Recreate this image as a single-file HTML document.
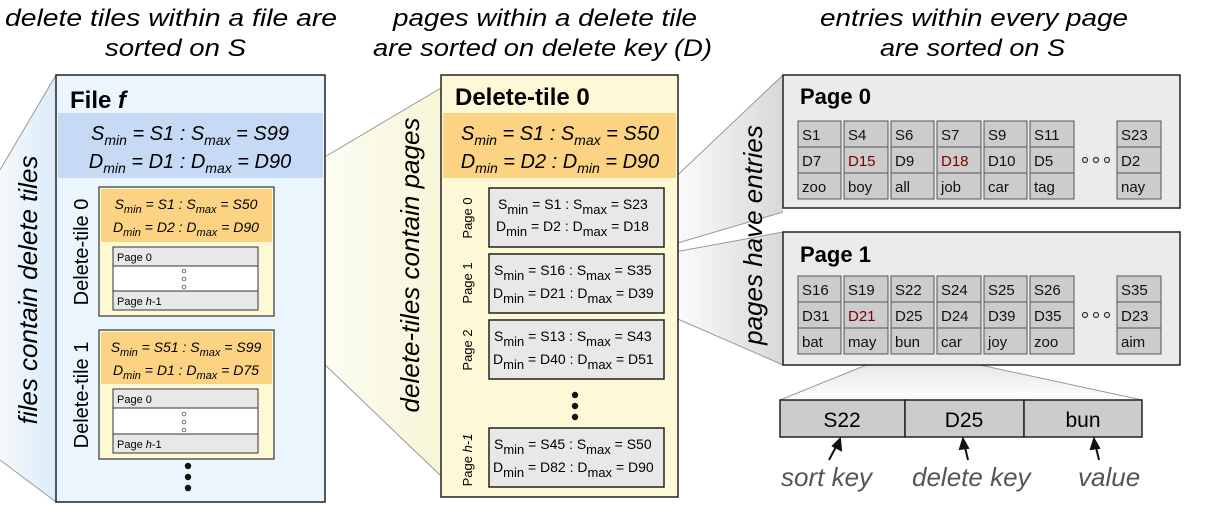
<!DOCTYPE html>
<html><head><meta charset="utf-8"><style>
html,body{margin:0;padding:0;background:#fff;}
svg{display:block;font-family:"Liberation Sans",sans-serif;}
</style></head><body>
<svg width="1215" height="513" viewBox="0 0 1215 513" xmlns="http://www.w3.org/2000/svg">
<defs>
<linearGradient id="gb" x1="0" x2="1" y1="0" y2="0"><stop offset="0" stop-color="#f4f9fd"/><stop offset="1" stop-color="#dcecf8"/></linearGradient>
<linearGradient id="gy" x1="0" x2="1" y1="0" y2="0"><stop offset="0" stop-color="#ffffff"/><stop offset="1" stop-color="#f6f6d8"/></linearGradient>
<linearGradient id="gg" x1="0" x2="1" y1="0" y2="0"><stop offset="0" stop-color="#ffffff"/><stop offset="1" stop-color="#d8d8d8"/></linearGradient>
<linearGradient id="gg2" x1="0" x2="0" y1="0" y2="1"><stop offset="0" stop-color="#e0e0e0"/><stop offset="1" stop-color="#ffffff"/></linearGradient>
</defs>

<g font-style="italic" font-size="24" fill="#000">
<text x="5" y="26" textLength="332" lengthAdjust="spacingAndGlyphs">delete tiles within a file are</text>
<text x="105" y="56" textLength="141" lengthAdjust="spacingAndGlyphs">sorted on S</text>
<text x="393" y="26" textLength="304" lengthAdjust="spacingAndGlyphs">pages within a delete tile</text>
<text x="373" y="56" textLength="339" lengthAdjust="spacingAndGlyphs">are sorted on delete key (D)</text>
<text x="820" y="26" textLength="308" lengthAdjust="spacingAndGlyphs">entries within every page</text>
<text x="880" y="56" textLength="185" lengthAdjust="spacingAndGlyphs">are sorted on S</text>
</g>

<polygon points="0,170 56,75 56,502 0,460" fill="url(#gb)"/>
<line x1="0" y1="170" x2="56" y2="75" stroke="#999"/><line x1="0" y1="460" x2="56" y2="502" stroke="#999"/>
<polygon points="274,187 441,88 441,476 274,316" fill="url(#gy)"/>
<line x1="274" y1="187" x2="441" y2="88" stroke="#999"/><line x1="274" y1="316" x2="441" y2="476" stroke="#999"/>
<polygon points="664,188 783,75 783,212 664,247" fill="url(#gg)"/>
<line x1="664" y1="188" x2="783" y2="75" stroke="#999"/><line x1="664" y1="247" x2="783" y2="212" stroke="#999"/>
<polygon points="664,254 783,232 783,365 664,313" fill="url(#gg)"/>
<line x1="664" y1="254" x2="783" y2="232" stroke="#999"/><line x1="664" y1="313" x2="783" y2="365" stroke="#999"/>
<polygon points="891,355 934,355 1142,400 780,400" fill="url(#gg2)"/>
<line x1="891" y1="355" x2="780" y2="400" stroke="#999"/><line x1="934" y1="355" x2="1142" y2="400" stroke="#999"/>

<g font-style="italic" font-size="26" fill="#000">
<text transform="translate(37,290) rotate(-90)" text-anchor="middle">files contain delete tiles</text>
<text transform="translate(419,265) rotate(-90)" text-anchor="middle">delete-tiles contain pages</text>
<text transform="translate(762,235) rotate(-90)" text-anchor="middle">pages have entries</text>
</g>

<rect x="56" y="75" width="269" height="427" fill="#eaf5fd" stroke="#222" stroke-width="1.5"/>
<text x="70" y="108" font-size="24" font-weight="bold">File <tspan font-style="italic">f</tspan></text>
<rect x="58" y="113" width="265" height="65" fill="#c6daf5"/>
<g font-size="20" font-style="italic" text-anchor="middle">
<text x="190" y="140">S<tspan font-size="14" dy="5">min</tspan><tspan dy="-5"> = S1 : S</tspan><tspan font-size="14" dy="5">max</tspan><tspan dy="-5"> = S99</tspan></text>
<text x="190" y="168">D<tspan font-size="14" dy="5">min</tspan><tspan dy="-5"> = D1 : D</tspan><tspan font-size="14" dy="5">max</tspan><tspan dy="-5"> = D90</tspan></text>
</g>
<g font-size="20">
<text transform="translate(88,252) rotate(-90)" text-anchor="middle">Delete-tile 0</text>
<text transform="translate(88,395) rotate(-90)" text-anchor="middle">Delete-tile 1</text>
</g>
<rect x="99" y="187" width="175" height="129" fill="#fdf9d4" stroke="#333" stroke-width="1.2"/>
<rect x="101" y="189" width="171" height="53" fill="#fcd283"/>
<g font-size="14" font-style="italic" text-anchor="middle">
<text x="186" y="209">S<tspan font-size="11" dy="4">min</tspan><tspan dy="-4"> = S1 : S</tspan><tspan font-size="11" dy="4">max</tspan><tspan dy="-4"> = S50</tspan></text>
<text x="186" y="232">D<tspan font-size="11" dy="4">min</tspan><tspan dy="-4"> = D2 : D</tspan><tspan font-size="11" dy="4">max</tspan><tspan dy="-4"> = D90</tspan></text>
</g>
<rect x="113" y="247" width="145" height="63" fill="#fff" stroke="#333"/>
<rect x="113" y="247" width="145" height="19" fill="#e8e8e8" stroke="#333"/>
<rect x="113" y="291" width="145" height="19" fill="#e8e8e8" stroke="#333"/>
<text x="117" y="261" font-size="11">Page 0</text>
<text x="117" y="305" font-size="11">Page <tspan font-style="italic">h</tspan>-1</text>
<g fill="none" stroke="#777"><circle cx="184" cy="271" r="1.8"/><circle cx="184" cy="279" r="1.8"/><circle cx="184" cy="287" r="1.8"/></g>
<rect x="99" y="330" width="175" height="129" fill="#fdf9d4" stroke="#333" stroke-width="1.2"/>
<rect x="101" y="332" width="171" height="52" fill="#fcd283"/>
<g font-size="14" font-style="italic" text-anchor="middle">
<text x="186" y="352">S<tspan font-size="11" dy="4">min</tspan><tspan dy="-4"> = S51 : S</tspan><tspan font-size="11" dy="4">max</tspan><tspan dy="-4"> = S99</tspan></text>
<text x="186" y="375">D<tspan font-size="11" dy="4">min</tspan><tspan dy="-4"> = D1 : D</tspan><tspan font-size="11" dy="4">max</tspan><tspan dy="-4"> = D75</tspan></text>
</g>
<rect x="113" y="389" width="145" height="64" fill="#fff" stroke="#333"/>
<rect x="113" y="389" width="145" height="19" fill="#e8e8e8" stroke="#333"/>
<rect x="113" y="434" width="145" height="19" fill="#e8e8e8" stroke="#333"/>
<text x="117" y="403" font-size="11">Page 0</text>
<text x="117" y="448" font-size="11">Page <tspan font-style="italic">h</tspan>-1</text>
<g fill="none" stroke="#777"><circle cx="184" cy="414" r="1.8"/><circle cx="184" cy="422" r="1.8"/><circle cx="184" cy="430" r="1.8"/></g>
<g fill="#111"><circle cx="188" cy="466" r="3.2"/><circle cx="188" cy="477" r="3.2"/><circle cx="188" cy="488" r="3.2"/></g>

<rect x="441" y="75" width="237" height="422" fill="#fdf9d6" stroke="#222" stroke-width="1.5"/>
<text x="455" y="105" font-size="24" font-weight="bold">Delete-tile 0</text>
<rect x="443" y="113" width="233" height="65" fill="#fcd283"/>
<g font-size="20" font-style="italic" text-anchor="middle">
<text x="560" y="140">S<tspan font-size="14" dy="5">min</tspan><tspan dy="-5"> = S1 : S</tspan><tspan font-size="14" dy="5">max</tspan><tspan dy="-5"> = S50</tspan></text>
<text x="560" y="168">D<tspan font-size="14" dy="5">min</tspan><tspan dy="-5"> = D2 : D</tspan><tspan font-size="14" dy="5">min</tspan><tspan dy="-5"> = D90</tspan></text>
</g>
<g font-size="13">
<text transform="translate(472,218) rotate(-90)" text-anchor="middle">Page 0</text>
<text transform="translate(472,283) rotate(-90)" text-anchor="middle">Page 1</text>
<text transform="translate(472,350) rotate(-90)" text-anchor="middle">Page 2</text>
<text transform="translate(472,460) rotate(-90)" text-anchor="middle">Page <tspan font-style="italic">h-1</tspan></text>
</g>
<g stroke="#222" stroke-width="1.5" fill="#e8e8e8">
<rect x="489" y="188" width="175" height="59"/>
<rect x="489" y="254" width="175" height="59"/>
<rect x="489" y="320" width="175" height="59"/>
<rect x="489" y="428" width="175" height="59"/>
</g>
<g font-size="14">
<text x="498" y="209">S<tspan font-size="13" dy="5">min</tspan><tspan dy="-5"> = S1 : S</tspan><tspan font-size="13" dy="5">max</tspan><tspan dy="-5"> = S23</tspan></text>
<text x="496" y="231">D<tspan font-size="13" dy="5">min</tspan><tspan dy="-5"> = D2 : D</tspan><tspan font-size="13" dy="5">max</tspan><tspan dy="-5"> = D18</tspan></text>
<text x="494" y="275">S<tspan font-size="13" dy="5">min</tspan><tspan dy="-5"> = S16 : S</tspan><tspan font-size="13" dy="5">max</tspan><tspan dy="-5"> = S35</tspan></text>
<text x="493" y="298">D<tspan font-size="13" dy="5">min</tspan><tspan dy="-5"> = D21 : D</tspan><tspan font-size="13" dy="5">max</tspan><tspan dy="-5"> = D39</tspan></text>
<text x="494" y="341">S<tspan font-size="13" dy="5">min</tspan><tspan dy="-5"> = S13 : S</tspan><tspan font-size="13" dy="5">max</tspan><tspan dy="-5"> = S43</tspan></text>
<text x="493" y="364">D<tspan font-size="13" dy="5">min</tspan><tspan dy="-5"> = D40 : D</tspan><tspan font-size="13" dy="5">max</tspan><tspan dy="-5"> = D51</tspan></text>
<text x="494" y="449">S<tspan font-size="13" dy="5">min</tspan><tspan dy="-5"> = S45 : S</tspan><tspan font-size="13" dy="5">max</tspan><tspan dy="-5"> = S50</tspan></text>
<text x="493" y="472">D<tspan font-size="13" dy="5">min</tspan><tspan dy="-5"> = D82 : D</tspan><tspan font-size="13" dy="5">max</tspan><tspan dy="-5"> = D90</tspan></text>
</g>
<g fill="#111"><circle cx="575" cy="395" r="3.2"/><circle cx="575" cy="406" r="3.2"/><circle cx="575" cy="417" r="3.2"/></g>

<rect x="783" y="75" width="397" height="133" fill="#ebebeb" stroke="#222" stroke-width="1.5"/>
<text x="800" y="104" font-size="22" font-weight="bold">Page 0</text>
<rect x="783" y="232" width="397" height="133" fill="#ebebeb" stroke="#222" stroke-width="1.5"/>
<text x="800" y="262" font-size="22" font-weight="bold">Page 1</text>

<g stroke="#555" stroke-width="1" fill="#cccccc">
<rect x="798" y="121" width="43" height="26"/><rect x="798" y="147" width="43" height="26"/><rect x="798" y="173" width="43" height="26"/>
<rect x="844" y="121" width="44" height="26"/><rect x="844" y="147" width="44" height="26"/><rect x="844" y="173" width="44" height="26"/>
<rect x="891" y="121" width="43" height="26"/><rect x="891" y="147" width="43" height="26"/><rect x="891" y="173" width="43" height="26"/>
<rect x="937" y="121" width="44" height="26"/><rect x="937" y="147" width="44" height="26"/><rect x="937" y="173" width="44" height="26"/>
<rect x="984" y="121" width="43" height="26"/><rect x="984" y="147" width="43" height="26"/><rect x="984" y="173" width="43" height="26"/>
<rect x="1030" y="121" width="44" height="26"/><rect x="1030" y="147" width="44" height="26"/><rect x="1030" y="173" width="44" height="26"/>
<rect x="1117" y="121" width="44" height="26"/><rect x="1117" y="147" width="44" height="26"/><rect x="1117" y="173" width="44" height="26"/>
<rect x="798" y="276" width="43" height="26"/><rect x="798" y="302" width="43" height="26"/><rect x="798" y="328" width="43" height="26"/>
<rect x="844" y="276" width="44" height="26"/><rect x="844" y="302" width="44" height="26"/><rect x="844" y="328" width="44" height="26"/>
<rect x="891" y="276" width="43" height="26"/><rect x="891" y="302" width="43" height="26"/><rect x="891" y="328" width="43" height="26"/>
<rect x="937" y="276" width="44" height="26"/><rect x="937" y="302" width="44" height="26"/><rect x="937" y="328" width="44" height="26"/>
<rect x="984" y="276" width="43" height="26"/><rect x="984" y="302" width="43" height="26"/><rect x="984" y="328" width="43" height="26"/>
<rect x="1030" y="276" width="44" height="26"/><rect x="1030" y="302" width="44" height="26"/><rect x="1030" y="328" width="44" height="26"/>
<rect x="1117" y="276" width="44" height="26"/><rect x="1117" y="302" width="44" height="26"/><rect x="1117" y="328" width="44" height="26"/>
</g>
<g font-size="15" fill="#111">
<text x="802" y="140">S1</text><text x="802" y="166">D7</text><text x="802" y="192">zoo</text>
<text x="848" y="140">S4</text><text x="848" y="166" fill="#7a0000">D15</text><text x="848" y="192">boy</text>
<text x="895" y="140">S6</text><text x="895" y="166">D9</text><text x="895" y="192">all</text>
<text x="941" y="140">S7</text><text x="941" y="166" fill="#7a0000">D18</text><text x="941" y="192">job</text>
<text x="988" y="140">S9</text><text x="988" y="166">D10</text><text x="988" y="192">car</text>
<text x="1034" y="140">S11</text><text x="1034" y="166">D5</text><text x="1034" y="192">tag</text>
<text x="1121" y="140">S23</text><text x="1121" y="166">D2</text><text x="1121" y="192">nay</text>
<text x="802" y="295">S16</text><text x="802" y="321">D31</text><text x="802" y="347">bat</text>
<text x="848" y="295">S19</text><text x="848" y="321" fill="#7a0000">D21</text><text x="848" y="347">may</text>
<text x="895" y="295">S22</text><text x="895" y="321">D25</text><text x="895" y="347">bun</text>
<text x="941" y="295">S24</text><text x="941" y="321">D24</text><text x="941" y="347">car</text>
<text x="988" y="295">S25</text><text x="988" y="321">D39</text><text x="988" y="347">joy</text>
<text x="1034" y="295">S26</text><text x="1034" y="321">D35</text><text x="1034" y="347">zoo</text>
<text x="1121" y="295">S35</text><text x="1121" y="321">D23</text><text x="1121" y="347">aim</text>
</g>
<g fill="none" stroke="#333" stroke-width="1.2">
<circle cx="1085" cy="160" r="2.5"/><circle cx="1096" cy="160" r="2.5"/><circle cx="1107" cy="160" r="2.5"/>
<circle cx="1085" cy="315" r="2.5"/><circle cx="1096" cy="315" r="2.5"/><circle cx="1107" cy="315" r="2.5"/>
</g>

<g stroke="#222" stroke-width="1.5" fill="#cccccc">
<rect x="780" y="400" width="125" height="37"/><rect x="905" y="400" width="119" height="37"/><rect x="1024" y="400" width="118" height="37"/>
</g>
<g font-size="21" text-anchor="middle">
<text x="842" y="427">S22</text><text x="964" y="427">D25</text><text x="1083" y="427">bun</text>
</g>
<g stroke="#111" stroke-width="2" fill="#111">
<line x1="829" y1="460" x2="838" y2="443"/><polygon points="840,439 841,450 833,446"/>
<line x1="968" y1="460" x2="964" y2="443"/><polygon points="963,439 968,448 960,449"/>
<line x1="1099" y1="460" x2="1095" y2="443"/><polygon points="1094,439 1099,448 1091,449"/>
</g>
<g font-size="26" font-style="italic" fill="#555">
<text x="781" y="486">sort key</text>
<text x="912" y="486">delete key</text>
<text x="1078" y="486">value</text>
</g>
</svg>
</body></html>
